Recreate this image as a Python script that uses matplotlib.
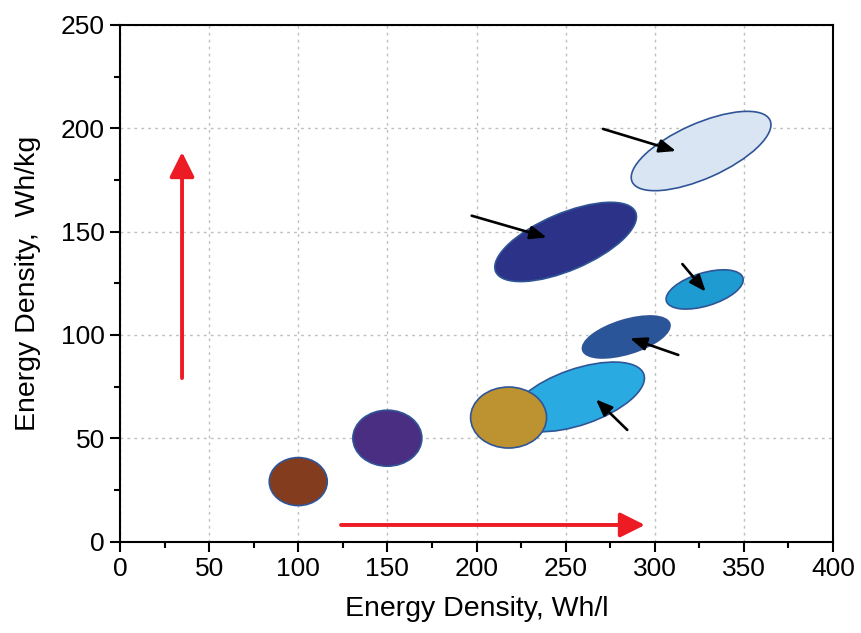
import matplotlib
matplotlib.use("Agg")
import matplotlib.pyplot as plt
from matplotlib.patches import Ellipse
import matplotlib.transforms as mtransforms
from matplotlib.ticker import MultipleLocator

plt.rcParams['font.family'] = ['Liberation Sans', 'DejaVu Sans']

# ---- data ----
# ellipse centres (Wh/l, Wh/kg)
ell_x = [257, 100, 150, 218, 284, 328, 250, 326]
ell_y = [70, 29, 50, 60, 99, 122, 145, 189]
# ellipse shape in display pixels (width, height, angle)
ell_w = [139, 58, 69, 76, 91, 80, 152, 151]
ell_h = [56, 48, 56, 61, 34, 33, 57, 55]
ell_ang = [19, 0, 0, 0, 17, 17, 23, 24]
ell_colors = ['#29ABE2', '#843C1E', '#4A2E82', '#BD9230', '#2A5699',
              '#1E9BD0', '#2B3287', '#DAE5F3']

# black pointer arrows: start -> tip
arr_x0 = [271.0, 197.3, 315.5, 313.2, 284.6]
arr_y0 = [199.7, 157.7, 134.3, 90.3, 54.0]
arr_x1 = [311.9, 239.4, 328.6, 286.1, 267.0]
arr_y1 = [189.0, 147.2, 120.9, 98.4, 68.8]

# red trend arrows
red_x0 = [34.8, 124.0]
red_y0 = [79.1, 8.0]
red_x1 = [34.8, 294.5]
red_y1 = [188.5, 8.0]

xticks = [0, 50, 100, 150, 200, 250, 300, 350, 400]
yticks = [0, 50, 100, 150, 200, 250]

fig = plt.figure(figsize=(8.61, 6.33), dpi=100)
ax = fig.add_axes([120/861, 1-541.5/633, (833-120)/861, (541.5-25)/633])
ax.set_xlim(0, 400)
ax.set_ylim(0, 250)
ax.set_xticks(xticks)
ax.set_yticks(yticks)
ax.xaxis.set_minor_locator(MultipleLocator(25))
ax.yaxis.set_minor_locator(MultipleLocator(25))
ax.tick_params(which='major', direction='out', length=7, width=1.5,
               labelsize=19, pad=4, top=False, right=False)
ax.tick_params(which='minor', direction='out', length=4, width=1.5,
               top=False, right=False)
for s in ax.spines.values():
    s.set_linewidth(1.5)
ax.grid(True, which='major', color='#BFBFBF', linestyle=(0, (2, 3)), linewidth=1)
ax.set_axisbelow(True)

ax.set_xlabel('Energy Density, Wh/l', fontsize=20.5, labelpad=11)
ax.set_ylabel('Energy Density,  Wh/kg', fontsize=20.5, labelpad=14)

for cx, cy, w, h, a, c in zip(ell_x, ell_y, ell_w, ell_h, ell_ang, ell_colors):
    tr = mtransforms.ScaledTranslation(cx, cy, ax.transData)
    e = Ellipse((0, 0), w, h, angle=a, facecolor=c, edgecolor='#2F5597',
                linewidth=1.2, transform=tr, zorder=3)
    ax.add_patch(e)

for x0, y0, x1, y1 in zip(arr_x0, arr_y0, arr_x1, arr_y1):
    ax.annotate('', xy=(x1, y1), xytext=(x0, y0),
                arrowprops=dict(arrowstyle='-|>,head_length=0.9,head_width=0.36',
                                mutation_scale=11, lw=1.9, color='black',
                                shrinkA=0, shrinkB=0), zorder=5)

for x0, y0, x1, y1 in zip(red_x0, red_y0, red_x1, red_y1):
    ax.annotate('', xy=(x1, y1), xytext=(x0, y0),
                arrowprops=dict(arrowstyle='-|>,head_length=1.0,head_width=0.5',
                                mutation_scale=15, lw=2.8, color='#ED1C24',
                                shrinkA=0, shrinkB=0), zorder=5)

fig.savefig('out.png', dpi=100)
